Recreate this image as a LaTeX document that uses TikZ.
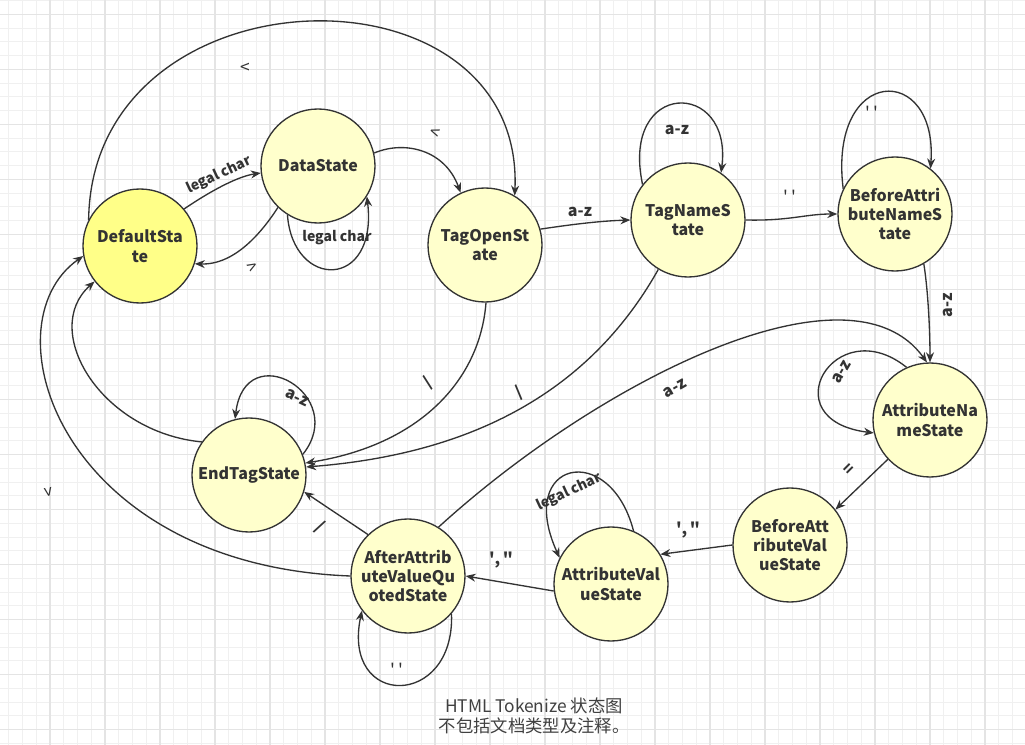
\documentclass[tikz,border=0pt]{standalone}
\usepackage{fontspec}
\setmainfont{Noto Sans CJK SC}
\usetikzlibrary{arrows.meta}
\colorlet{myline}{black!80}
\definecolor{myyellow}{HTML}{FFFF88}
\definecolor{mypale}{HTML}{FFFFCC}
\definecolor{mygrid}{HTML}{F0F0F0}
\definecolor{mygridmajor}{HTML}{E4E4E4}

\begin{document}
\begin{tikzpicture}[x=0.75pt,y=-0.75pt]
\tikzset{VertexStyle/.style={circle,draw=myline,line width=1pt,fill=mypale,minimum size=85.5pt,inner sep=0pt,align=center,text=myline,font=\bfseries\fontsize{12}{14.5}\selectfont}}
\tikzset{EdgeStyle/.style={draw=myline,line width=1pt,-{Stealth[length=7.5pt,width=6pt]}}}
\tikzset{LabelStyle/.style={text=myline,inner sep=0pt,font=\bfseries\fontsize{12}{14}\selectfont}}
\tikzset{SmallLabel/.style={text=myline,inner sep=0pt,font=\bfseries\fontsize{10.5}{12}\selectfont}}
\tikzset{QuoteLabel/.style={text=myline,inner sep=0pt,font=\fontsize{13}{14}\selectfont}}
\useasboundingbox (0,0) rectangle (1025,745);
\fill[white] (0,0) rectangle (1025,745);
\foreach \i in {0,...,74} \draw[mygrid,line width=0.75pt] ({8.75+13.75*\i},0) -- ({8.75+13.75*\i},745);
\foreach \i in {0,...,54} \draw[mygrid,line width=0.75pt] (0,{0.75+13.75*\i}) -- (1025,{0.75+13.75*\i});
\foreach \i in {0,...,18} \draw[mygridmajor,line width=1pt] ({50+55*\i},0) -- ({50+55*\i},745);
\foreach \i in {0,...,13} \draw[mygridmajor,line width=1pt] (0,{14.5+55*\i}) -- (1025,{14.5+55*\i});

\node[VertexStyle,fill=myyellow] (Default) at (140,246) {DefaultSta\\te};
\node[VertexStyle] (Data) at (318,166) {DataState};
\node[VertexStyle] (TagOpen) at (485,245) {TagOpenSt\\ate};
\node[VertexStyle] (TagName) at (688,220) {TagNameS\\tate};
\node[VertexStyle] (BeforeAttrName) at (895,214) {BeforeAttri\\buteNameS\\tate};
\node[VertexStyle] (AttrName) at (930,420) {AttributeNa\\meState};
\node[VertexStyle] (BeforeAttrValue) at (790,545) {BeforeAtt\\ributeVal\\ueState};
\node[VertexStyle] (AttrValue) at (611,584) {AttributeVal\\ueState};
\node[VertexStyle] (AfterAttrValue) at (408,576) {AfterAttrib\\uteValueQu\\otedState};
\node[VertexStyle] (EndTag) at (249,475) {EndTagState};

\draw[EdgeStyle] (Default.40) .. controls (215,188) and (240,176) .. (Data.187);
\draw[EdgeStyle] (Data.226) .. controls (262,232) and (235,265) .. (Default.342);
\draw[EdgeStyle] (Data.238) .. controls (293,290) and (378,290) .. (Data.-32);
\draw[EdgeStyle] (Data.13) .. controls (405,140) and (445,150) .. (TagOpen.115);
\draw[EdgeStyle] (Default.153) .. controls (92,-35) and (525,-45) .. (TagOpen.59);
\draw[EdgeStyle] (TagOpen.16) .. controls (575,224) and (600,221) .. (TagName.180);
\draw[EdgeStyle] (TagName.142) .. controls (620,79) and (733,79) .. (TagName.55);
\draw[EdgeStyle] (TagName.0) .. controls (790,221) and (805,214) .. (BeforeAttrName.180);
\draw[EdgeStyle] (BeforeAttrName.154) .. controls (828,65) and (938,62) .. (BeforeAttrName.52);
\draw[EdgeStyle] (BeforeAttrName.-60) .. controls (928,290) and (930,330) .. (AttrName.90);
\draw[EdgeStyle] (AfterAttrValue.58) .. controls (600,380) and (850,255) .. (AttrName.93);
\draw[EdgeStyle] (AttrName.114) .. controls (835,310) and (770,420) .. (AttrName.193);
\draw[EdgeStyle] (AttrName.223) -- (BeforeAttrValue.38);
\draw[EdgeStyle] (BeforeAttrValue.180) -- (AttrValue.31);
\draw[EdgeStyle] (AttrValue.67) .. controls (610,440) and (515,460) .. (AttrValue.153);
\draw[EdgeStyle] (AttrValue.187) -- (AfterAttrValue.0);
\draw[EdgeStyle] (AfterAttrValue.-41) .. controls (455,709) and (341,709) .. (AfterAttrValue.217);
\draw[EdgeStyle] (AfterAttrValue.134) -- (EndTag.-17);
\draw[EdgeStyle] (TagOpen.-89) .. controls (480,380) and (420,445) .. (EndTag.12);
\draw[EdgeStyle] (TagName.239) .. controls (585,400) and (460,455) .. (EndTag.8);
\draw[EdgeStyle] (EndTag.21) .. controls (350,395) and (245,335) .. (EndTag.104);
\draw[EdgeStyle] (EndTag.145) .. controls (100,432) and (40,330) .. (Default.218);
\draw[EdgeStyle] (AfterAttrValue.180) .. controls (60,565) and (-15,325) .. (Default.190);

\node[SmallLabel,rotate=25] (DefDataLabel) at (219,175) {legal char};
\node[QuoteLabel,rotate=30] (DataDefLabel) at (253,268) {>};
\node[SmallLabel] (DataLoopLabel) at (337,238) {legal char};
\node[QuoteLabel,rotate=-20] (DataTagOpenLabel) at (435,133) {<};
\node[QuoteLabel] (DefTagOpenLabel) at (245,68) {<};
\node[LabelStyle] (TagOpenNameLabel) at (580,212) {a-z};
\node[LabelStyle] (TagNameLoopLabel) at (677,130) {a-z};
\node[QuoteLabel] (TagNameBeforeLabel) at (790,197) {\textquotesingle\hspace{3pt}\textquotesingle};
\node[QuoteLabel] (BeforeNameLoopLabel) at (872,113) {\textquotesingle\hspace{3pt}\textquotesingle};
\node[LabelStyle,rotate=90] (BeforeNameAttrLabel) at (948,305) {a-z};
\node[LabelStyle,rotate=30] (AfterAttrNameLabel) at (675,388) {a-z};
\node[LabelStyle,rotate=60] (AttrNameLoopLabel) at (842,372) {a-z};
\node[LabelStyle,rotate=45] (AttrNameEqLabel) at (850,470) {=};
\node[LabelStyle] (BeforeValueLabel) at (688,530) {\textquotesingle,\,\textquotedbl};
\node[SmallLabel,rotate=25] (AttrValueLoopLabel) at (569,492) {legal char};
\node[LabelStyle] (AttrValueAfterLabel) at (501,560) {\textquotesingle,\,\textquotedbl};
\node[QuoteLabel] (AfterLoopLabel) at (397,670) {\textquotesingle\hspace{3pt}\textquotesingle};
\node[LabelStyle,rotate=-35] (AfterEndLabel) at (320,527) {/};
\node[LabelStyle,rotate=45] (TagOpenEndLabel) at (428,383) {/};
\node[LabelStyle,rotate=35] (TagNameEndLabel) at (519,393) {/};
\node[LabelStyle,rotate=-25] (EndTagLoopLabel) at (297,398) {a-z};
\node[QuoteLabel,rotate=-80] (AfterDefLabel) at (47,492) {>};
\node[text=black!75,align=center,font=\fontsize{13}{15}\selectfont] (Caption) at (534,716) {HTML Tokenize 状态图\\不包括文档类型及注释。};
\end{tikzpicture}
\end{document}
